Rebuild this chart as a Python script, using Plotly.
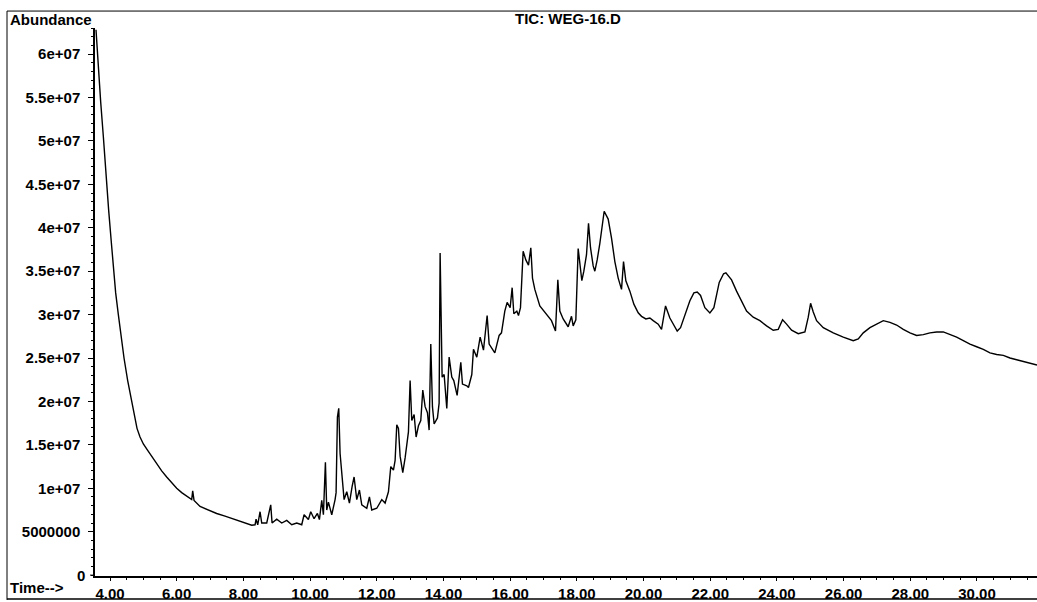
import plotly.graph_objects as go

# Retention time (min) and abundance (millions of counts)
time_min = [
    3.58, 3.62, 3.67, 3.72, 3.80, 3.88, 3.96, 4.04, 4.10, 4.17, 4.25, 4.33, 4.42, 4.53,
    4.65, 4.73, 4.81, 4.90, 5.00, 5.14, 5.30, 5.42, 5.55, 5.70, 5.85, 6.00, 6.15,
    6.30, 6.45, 6.48, 6.52, 6.70, 6.95, 7.20, 7.45, 7.70, 7.90, 8.10, 8.25, 8.35, 8.38,
    8.43, 8.50, 8.55, 8.70, 8.82, 8.86, 9.00, 9.15, 9.30, 9.45, 9.60, 9.75, 9.82, 9.95,
    10.02, 10.12, 10.22, 10.28, 10.35, 10.40, 10.46, 10.50, 10.55, 10.65, 10.75, 10.78,
    10.82, 10.86, 10.90, 10.96, 11.02, 11.10, 11.18, 11.26, 11.32, 11.40, 11.48, 11.55,
    11.70, 11.78, 11.85, 12.00, 12.15, 12.25, 12.35, 12.42, 12.50, 12.55, 12.60, 12.65,
    12.70, 12.78, 12.85, 12.95, 13.00, 13.05, 13.12, 13.18, 13.25, 13.32, 13.38, 13.45,
    13.52, 13.57, 13.62, 13.67, 13.72, 13.82, 13.87, 13.90, 13.96, 14.02, 14.10, 14.17,
    14.25, 14.31, 14.41, 14.52, 14.57, 14.70, 14.75, 14.85, 14.90, 15.00, 15.10, 15.20,
    15.31, 15.37, 15.54, 15.67, 15.74, 15.84, 15.91, 16.00, 16.06, 16.11, 16.20, 16.25,
    16.31, 16.39, 16.47, 16.55, 16.62, 16.67, 16.74, 16.89, 17.09, 17.24, 17.36, 17.43,
    17.49, 17.59, 17.74, 17.84, 17.89, 17.97, 18.04, 18.09, 18.15, 18.21, 18.29, 18.35,
    18.41, 18.49, 18.54, 18.61, 18.69, 18.82, 18.94, 19.04, 19.14, 19.24, 19.34, 19.40,
    19.47, 19.59, 19.71, 19.84, 19.94, 20.07, 20.19, 20.29, 20.44, 20.54, 20.66, 20.79,
    20.89, 21.01, 21.11, 21.24, 21.39, 21.51, 21.61, 21.71, 21.84, 21.99, 22.11, 22.27,
    22.40, 22.47, 22.64, 22.79, 22.94, 23.09, 23.29, 23.49, 23.69, 23.89, 24.04, 24.17,
    24.29, 24.44, 24.64, 24.84, 24.94, 25.01, 25.09, 25.19, 25.39, 25.69, 25.99, 26.29,
    26.44, 26.59, 26.79, 26.99, 27.19, 27.39, 27.59, 27.79, 27.99, 28.19, 28.39, 28.59,
    28.79, 28.99, 29.19, 29.39, 29.59, 29.79, 29.99, 30.19, 30.39, 30.59, 30.79, 30.99,
    31.19, 31.39, 31.59, 31.80,
]
abundance_m = [
    62.8, 60.0, 57.0, 54.5, 50.5, 46.0, 42.0, 38.3, 35.3, 32.5, 30.0, 27.5, 25.0, 22.4,
    20.0, 18.3, 16.9, 15.9, 15.1, 14.3, 13.4, 12.7, 12.0, 11.3, 10.6, 10.0, 9.5,
    9.1, 8.7, 9.7, 8.6, 7.9, 7.5, 7.1, 6.8, 6.45, 6.15, 5.9, 5.75, 5.8, 6.45,
    5.8, 7.3, 6.0, 6.0, 8.1, 6.0, 6.45, 6.0, 6.3, 5.8, 6.0, 5.8, 6.95, 6.4,
    7.3, 6.5, 7.1, 6.4, 8.6, 6.95, 13.0, 7.5, 8.4, 6.95, 8.7, 9.5,
    18.2, 19.2, 14.0, 11.0, 8.7, 9.6, 8.3, 10.2, 11.3, 8.7, 9.8, 8.1,
    7.7, 9.0, 7.5, 7.7, 8.7, 8.3, 9.6, 12.5, 12.1, 13.2, 17.3, 16.9,
    13.7, 11.8, 13.5, 16.5, 22.4, 17.8, 18.5, 15.9, 17.2, 17.8, 21.3, 19.4,
    18.7, 16.7, 26.6, 19.4, 17.4, 18.1, 19.8, 37.1, 22.8, 23.1, 19.2, 25.1,
    22.8, 22.4, 20.7, 24.5, 22.0, 21.8, 21.6, 23.1, 26.0, 25.1, 27.4, 25.9,
    29.9, 26.6, 25.6, 27.6, 27.9, 30.4, 31.4, 30.8, 33.1, 30.1, 30.4, 29.9,
    30.8, 37.3, 36.3, 35.7, 37.7, 34.2, 32.9, 31.0, 30.0, 29.3, 28.1, 34.0,
    30.4, 29.5, 28.6, 29.8, 28.7, 29.4, 37.6, 35.5, 33.9, 35.0, 36.9, 40.5,
    37.7, 35.6, 35.0, 36.3, 38.2, 41.9, 41.0, 38.8, 36.1, 34.2, 32.9, 36.1,
    33.9, 32.7, 31.2, 30.2, 29.8, 29.5, 29.6, 29.3, 28.9, 28.3, 31.0, 29.6,
    28.9, 28.1, 28.5, 30.0, 31.6, 32.5, 32.6, 32.2, 30.8, 30.2, 30.8, 33.7,
    34.7, 34.8, 34.0, 32.7, 31.6, 30.4, 29.7, 29.3, 28.7, 28.2, 28.3, 29.4,
    28.9, 28.2, 27.8, 28.0, 29.7, 31.3, 30.3, 29.3, 28.5, 27.9, 27.4, 27.0,
    27.2, 27.9, 28.5, 28.9, 29.3, 29.1, 28.8, 28.3, 27.9, 27.6, 27.7, 27.9,
    28.0, 28.0, 27.7, 27.4, 27.0, 26.6, 26.3, 26.0, 25.6, 25.4, 25.3, 25.0,
    24.8, 24.6, 24.4, 24.2,
]

x_tick_vals = [4, 6, 8, 10, 12, 14, 16, 18, 20, 22, 24, 26, 28, 30]
x_tick_text = ["4.00", "6.00", "8.00", "10.00", "12.00", "14.00", "16.00", "18.00",
               "20.00", "22.00", "24.00", "26.00", "28.00", "30.00"]
y_tick_vals = [5e6, 1e7, 1.5e7, 2e7, 2.5e7, 3e7, 3.5e7, 4e7, 4.5e7, 5e7, 5.5e7, 6e7]
y_tick_text = ["5000000", "1e+07", "1.5e+07", "2e+07", "2.5e+07", "3e+07",
               "3.5e+07", "4e+07", "4.5e+07", "5e+07", "5.5e+07", "6e+07"]
y_zero_label = "0"

title_text = "TIC: WEG-16.D"
y_label = "Abundance"
x_label = "Time-->"

abundance = [v * 1e6 for v in abundance_m]

FONT = "Liberation Sans, Arial, Helvetica, sans-serif"
W, H = 1037, 602
ML, MR, MT, MB = 95, 0, 28, 24
PW, PH = W - ML - MR, H - MT - MB


def px(xp):
    return (xp - ML) / PW


def py(yp):
    return (H - MB - yp) / PH


bold = dict(family=FONT, size=15, color="black", weight="bold")

fig = go.Figure()
fig.add_trace(go.Scatter(
    x=time_min, y=abundance, mode="lines",
    line=dict(color="black", width=1.4),
    hoverinfo="skip", showlegend=False,
))

fig.update_layout(
    width=W, height=H,
    margin=dict(l=ML, r=MR, t=MT, b=MB),
    paper_bgcolor="white", plot_bgcolor="white",
    font=dict(family=FONT, size=15, color="black"),
    showlegend=False,
    xaxis=dict(
        range=[3.55, 31.80],
        tickmode="array", tickvals=x_tick_vals, ticktext=x_tick_text,
        ticks="outside", ticklen=3, tickwidth=1, tickcolor="black",
        minor=dict(dtick=0.5, tick0=0, ticks="outside", ticklen=2, tickcolor="black", showgrid=False),
        showline=True, linecolor="black", linewidth=1.5,
        showgrid=False, zeroline=False,
        tickfont=bold,
        ticklabelstandoff=0,
    ),
    yaxis=dict(
        range=[-0.1e6, 63.0e6],
        tickmode="array", tickvals=y_tick_vals, ticktext=y_tick_text,
        ticks="outside", ticklen=5, tickwidth=1, tickcolor="black",
        minor=dict(dtick=1e6, tick0=0, ticks="outside", ticklen=2, tickcolor="black", showgrid=False),
        showline=True, linecolor="black", linewidth=1.5,
        showgrid=False, zeroline=False,
        tickfont=bold,
        ticklabelstandoff=5,
    ),
    annotations=[
        dict(text=y_label, xref="paper", yref="paper", x=px(8), y=py(19),
             xanchor="left", yanchor="middle", showarrow=False, font=bold),
        dict(text=x_label, xref="paper", yref="paper", x=px(8), y=py(590),
             xanchor="left", yanchor="middle", showarrow=False, font=bold),
        dict(text=title_text, xref="paper", yref="paper", x=px(568), y=py(18),
             xanchor="center", yanchor="middle", showarrow=False, font=bold),
        dict(text=y_zero_label, xref="paper", yref="y", x=px(87), y=0,
             xanchor="right", yanchor="middle", showarrow=False, font=bold),
    ],
    shapes=[
        dict(type="line", xref="paper", yref="paper", x0=px(7), x1=px(7), y0=py(11), y1=py(602),
             line=dict(color="black", width=1)),
        dict(type="line", xref="paper", yref="paper", x0=px(7), x1=px(1037), y0=py(11), y1=py(11),
             line=dict(color="black", width=1)),
        dict(type="line", xref="paper", yref="paper", x0=px(7), x1=px(1037), y0=py(601), y1=py(601),
             line=dict(color="black", width=1.5)),
        dict(type="line", xref="paper", yref="y", x0=px(90), x1=px(95), y0=0, y1=0,
             line=dict(color="black", width=1)),
    ],
)

fig.write_html("out.html")
